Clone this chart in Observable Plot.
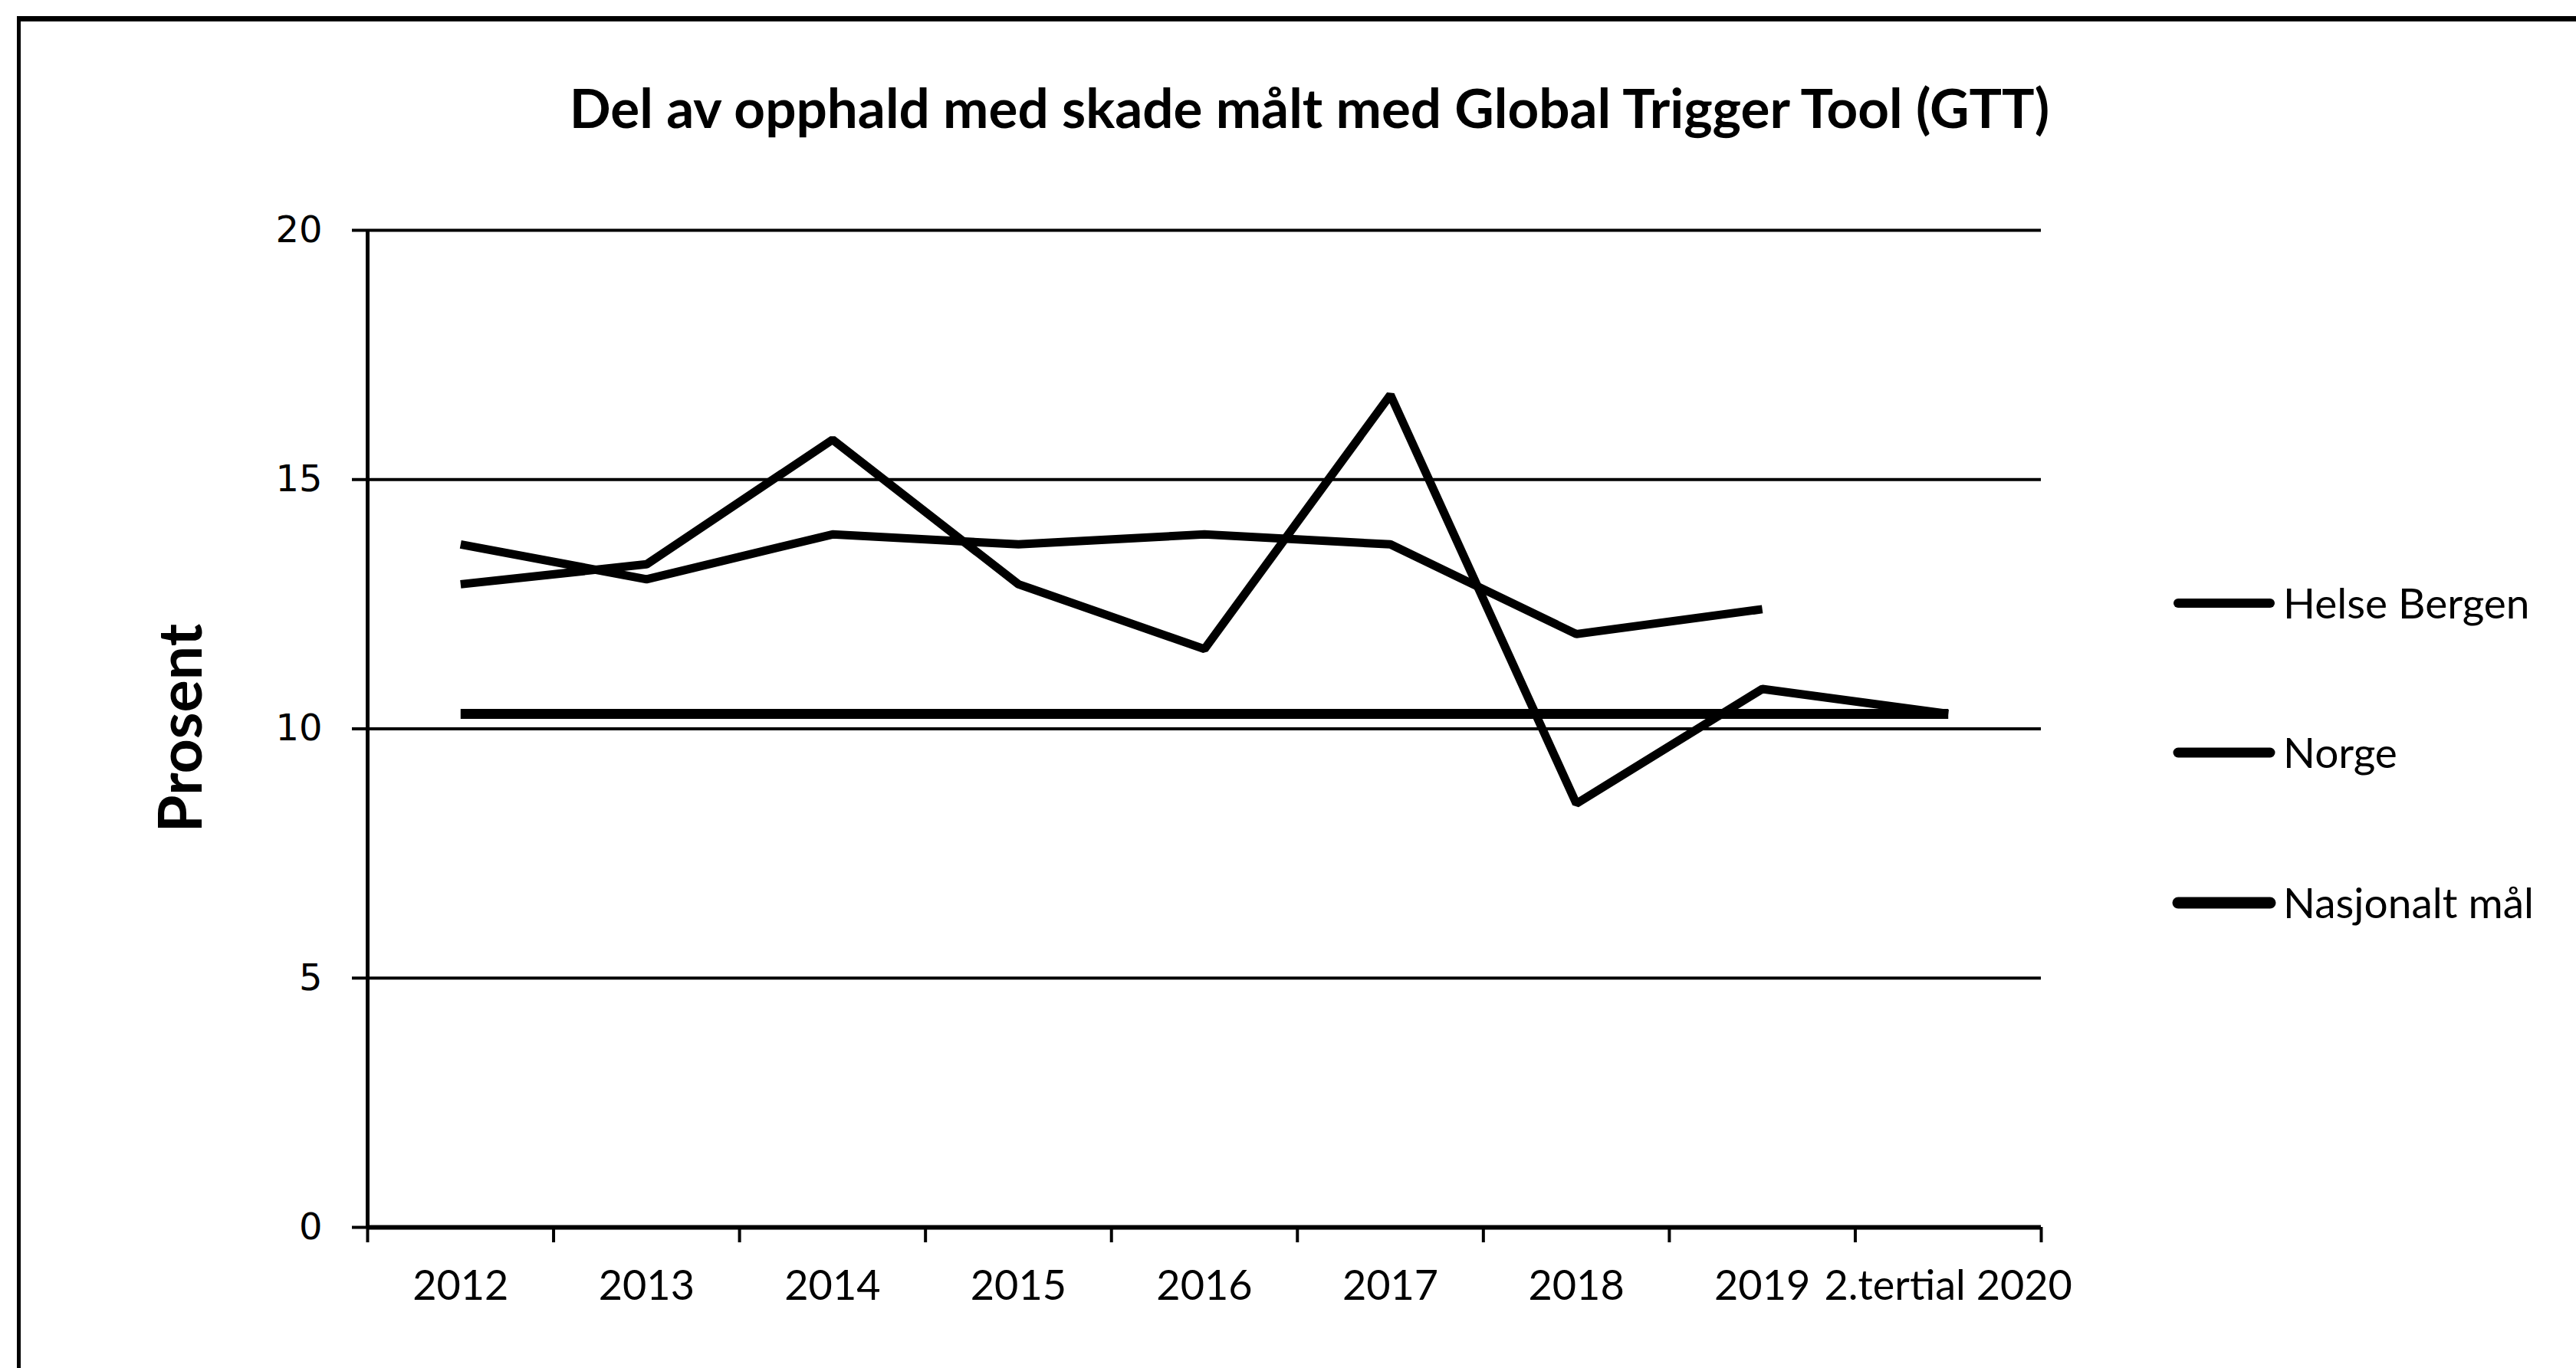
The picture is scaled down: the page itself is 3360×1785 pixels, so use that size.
<!DOCTYPE html>
<html>
<head>
<meta charset="utf-8">
<script src="https://cdn.jsdelivr.net/npm/d3@7"></script>
<script src="https://cdn.jsdelivr.net/npm/@observablehq/plot@0.6"></script>
<style>
  html, body { margin: 0; padding: 0; background: #fff; }
  #page { position: relative; width: 3360px; height: 1785px; overflow: hidden; background: #fff; }
  #border { position: absolute; left: 22px; top: 21px; right: -10px; bottom: -20px;
            border-top: 7px solid #000; border-left: 5px solid #000; }
  #chart { position: absolute; left: 0; top: 240px; }
  #overlay { position: absolute; left: 0; top: 0; }
</style>
</head>
<body>
<div id="page">
  <div id="border"></div>
  <div id="chart"></div>
  <svg id="overlay" width="3360" height="1785"></svg>
</div>
<script>
// ---- data ----
const title = "Del av opphald med skade målt med Global Trigger Tool (GTT)";
const yLabel = "Prosent";
const categories = ["2012", "2013", "2014", "2015", "2016", "2017", "2018", "2019", "2.tertial 2020"];
const helseBergen = [12.9, 13.3, 15.8, 12.9, 11.6, 16.7, 8.5, 10.8, 10.3];
const norge = [13.7, 13.0, 13.9, 13.7, 13.9, 13.7, 11.9, 12.4, null];
const nasjonaltMaal = [10.3, 10.3, 10.3, 10.3, 10.3, 10.3, 10.3, 10.3, 10.3];
const yTicks = [0, 5, 10, 15, 20];
const seriesNames = ["Helse Bergen", "Norge", "Nasjonalt mål"];
const seriesValues = [helseBergen, norge, nasjonaltMaal];
const seriesWidths = [11, 11, 13];
const legendWidths = [12, 13, 15];

// ---- table built from arrays ----
const rows = [];
seriesNames.forEach((name, s) => {
  categories.forEach((c, i) => rows.push({series: name, pos: i + 0.5, value: seriesValues[s][i]}));
});
const boundaries = d3.range(categories.length + 1);
const centers = categories.map((c, i) => i + 0.5);

const chart = Plot.plot({
  width: 2760,
  height: 1545,
  marginLeft: 479,
  marginRight: 98,
  marginTop: 60,
  marginBottom: 184,
  style: {fontFamily: "Lato", color: "#000", background: "transparent", overflow: "visible"},
  x: {domain: [0, categories.length]},
  y: {domain: [0, 20]},
  marks: [
    Plot.gridY(yTicks, {stroke: "#000", strokeOpacity: 1, strokeWidth: 4}),
    Plot.axisY(yTicks, {tickSize: 20, tickPadding: 39, strokeWidth: 4, fontSize: 48,
                        fontFamily: "DejaVu Sans", tickFormat: d3.format("d"), label: null}),
    Plot.axisX(boundaries, {tickSize: 20, tickFormat: () => "", strokeWidth: 4, label: null}),
    Plot.axisX(centers, {tickSize: 0, tickPadding: 56, fontSize: 54, fontFamily: "Lato",
                         tickFormat: d => categories[Math.round(d - 0.5)], label: null}),
    ...seriesNames.map((name, s) =>
      Plot.line(rows.filter(r => r.series === name), {
        x: "pos", y: "value", stroke: "#000", strokeWidth: seriesWidths[s],
        strokeLinejoin: "miter", strokeLinecap: "butt", curve: "linear"
      })),
    Plot.ruleX([0], {stroke: "#000", strokeWidth: 5}),
    Plot.ruleY([0], {stroke: "#000", strokeWidth: 6})
  ]
});
document.getElementById("chart").appendChild(chart);

// ---- title, y label, legend ----
const svg = d3.select("#overlay");
svg.append("text")
  .attr("x", 1708).attr("y", 167)
  .attr("text-anchor", "middle")
  .attr("font-family", "Lato").attr("font-weight", "bold").attr("font-size", 71)
  .attr("fill", "#000")
  .text(title);

svg.append("text")
  .attr("transform", "translate(263,950) rotate(-90)")
  .attr("text-anchor", "middle")
  .attr("font-family", "Lato").attr("font-weight", "bold").attr("font-size", 79)
  .attr("fill", "#000")
  .text(yLabel);

const legendY = [787, 982, 1178];
const lg = svg.append("g");
seriesNames.forEach((name, s) => {
  lg.append("line")
    .attr("x1", 2841).attr("x2", 2961)
    .attr("y1", legendY[s]).attr("y2", legendY[s])
    .attr("stroke", "#000").attr("stroke-width", legendWidths[s])
    .attr("stroke-linecap", "round");
  lg.append("text")
    .attr("x", 2978).attr("y", legendY[s] + 20)
    .attr("font-family", "Lato").attr("font-size", 55)
    .attr("fill", "#000")
    .text(name);
});
</script>
</body>
</html>
